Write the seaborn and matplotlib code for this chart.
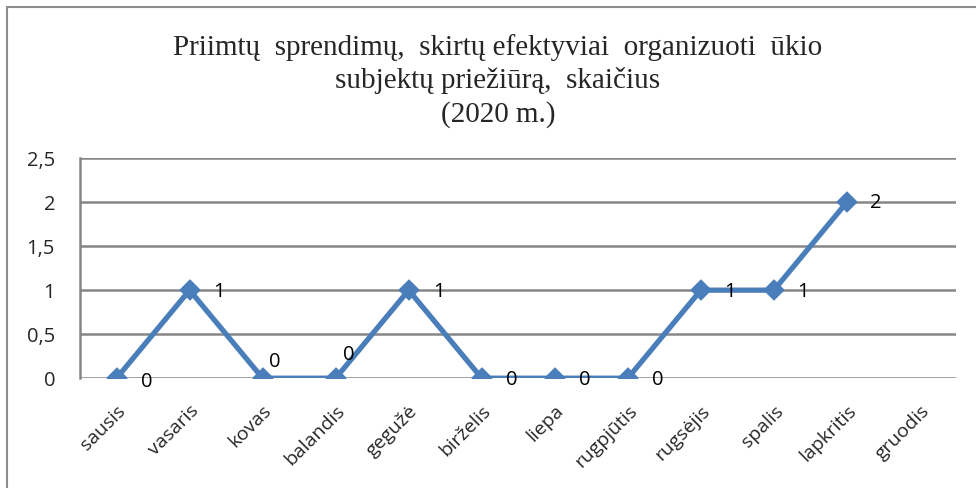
import numpy as np
import pandas as pd
import seaborn as sns
import matplotlib.pyplot as plt
from matplotlib.lines import Line2D

# Mėnesiai ir priimtų sprendimų skaičius (gruodžio nėra duomenų)
menesiai = ["sausis", "vasaris", "kovas", "balandis", "gegužė", "birželis",
            "liepa", "rugpjūtis", "rugsėjis", "spalis", "lapkritis", "gruodis"]
reiksmes = [0, 1, 0, 0, 1, 0, 0, 0, 1, 1, 2, np.nan]
y_ticks = [0, 0.5, 1, 1.5, 2, 2.5]
y_labels = ["0", "0,5", "1", "1,5", "2", "2,5"]

pavadinimas = ("Priimtų  sprendimų,  skirtų efektyviai  organizuoti  ūkio\n"
               "subjektų priežiūrą,  skaičius\n"
               "(2020 m.)")

df = pd.DataFrame({"menuo": menesiai, "kiekis": reiksmes})

sns.set_style("white")
plt.rcParams['font.family'] = ['Open Sans', 'DejaVu Sans']

spalva = "#4a7ebb"
pilka = "#868686"

fig = plt.figure(figsize=(9.76, 4.88), dpi=100)
ax = fig.add_axes([0.082, 0.225, 0.898, 0.451])

sns.pointplot(data=df, x="menuo", y="kiekis", order=menesiai, color=spalva,
              markers="D", markersize=8, linewidth=3.8, errorbar=None, ax=ax)

# Excel'io stiliaus etikečių poslinkiai (pikseliais)
poslinkiai = [(30, -4), (29, -2), (12, 16), (13, 23), (30, -2), (30, -2),
              (30, -2), (30, -2), (29, -2), (29, -2), (29, -1), (0, 0)]
for i, v in enumerate(reiksmes):
    if np.isnan(v):
        continue
    dx, dy = poslinkiai[i]
    ax.annotate(f"{v:g}", (i, v), xytext=(dx, dy), textcoords="offset pixels",
                ha="center", va="center", fontsize=14.5, color="black")

ax.set_xlim(-0.5, len(menesiai) - 0.5)
ax.set_ylim(0, 2.5)
ax.set_yticks(y_ticks)
ax.set_yticklabels(y_labels, fontsize=14.5)
ax.set_xticks(range(len(menesiai)))
ax.set_xticklabels(menesiai, rotation=45, ha="right", rotation_mode="anchor",
                   fontsize=14)
ax.tick_params(axis="both", length=0)
ax.tick_params(axis="y", pad=18)
ax.tick_params(axis="x", pad=17)
ax.set_xlabel("")
ax.set_ylabel("")

ax.grid(axis="y", color=pilka, linewidth=1.8)
ax.set_axisbelow(True)
for s in ["top", "right", "bottom"]:
    ax.spines[s].set_visible(False)
ax.spines["left"].set_color(pilka)
ax.spines["left"].set_linewidth(1.8)
ax.spines["left"].set_zorder(0)

fig.text(0.51, 0.93, pavadinimas, ha="center", va="top", fontsize=21,
         family="Liberation Serif", linespacing=1.3)

# rėmelis aplink diagramą
fig.add_artist(Line2D([7 / 976, 1], [1 - 7 / 488, 1 - 7 / 488],
                      transform=fig.transFigure, color="#8c8c8c", linewidth=1.5))
fig.add_artist(Line2D([7 / 976, 7 / 976], [0, 1 - 7 / 488],
                      transform=fig.transFigure, color="#8c8c8c", linewidth=1.5))

fig.savefig("out.png", dpi=100)
